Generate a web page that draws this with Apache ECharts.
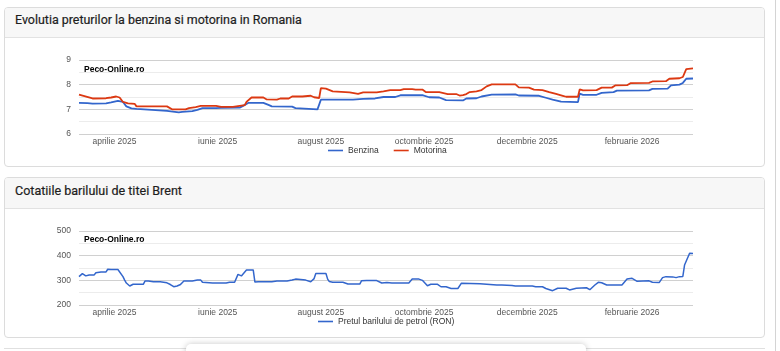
<!DOCTYPE html>
<html>
<head>
<meta charset="utf-8">
<script src="https://cdn.jsdelivr.net/npm/echarts@6/dist/echarts.min.js"></script>
<style>
  html, body { margin: 0; padding: 0; background: #fff; width: 780px; height: 351px; overflow: hidden; position: relative; }
  .card { position: absolute; left: 4px; width: 761px; border: 1px solid #dcdcdc; border-radius: 4px; background: #fff; box-sizing: border-box; overflow: hidden; }
  .hdr { position: absolute; left: 0; top: 0; right: 0; background: #f7f7f7; border-bottom: 1px solid #e2e2e2; box-sizing: border-box; }
  .ttl { position: absolute; left: 10px; font-family: Roboto, sans-serif; font-weight: 400; color: #1e1e1e; white-space: nowrap; line-height: 1; -webkit-text-stroke: 0.2px #1e1e1e; }
  #chart { position: absolute; left: 0; top: 0; width: 780px; height: 351px; }
</style>
</head>
<body>
<div class="card" style="top:7px;height:160px;">
  <div class="hdr" style="height:30px;"><div class="ttl" id="t1" style="top:6px;">Evolutia preturilor la benzina si motorina in Romania</div></div>
</div>
<div class="card" style="top:177px;height:161px;">
  <div class="hdr" style="height:31px;"><div class="ttl" id="t2" style="top:7px;">Cotatiile barilului de titei Brent</div></div>
</div>
<div style="position:absolute;left:4px;top:348px;width:761px;height:10px;border-top:1px solid #e0e0e0;"></div>
<div style="position:absolute;left:186px;top:344px;width:400px;height:20px;background:#fff;border-radius:5px;box-shadow:0 0 6px rgba(0,0,0,0.22);"></div>
<div style="position:absolute;left:775px;top:0;width:1px;height:351px;background:#d4d4d4;"></div>
<div id="chart"></div>
<script>
// ---------- data ----------
const axisStart = '2025-03-11';
const axisEnd = '2026-03-09';
const tickDates = ['2025-04-01', '2025-06-01', '2025-08-01', '2025-10-01', '2025-12-01', '2026-02-01'];
const tickLabels = ['aprilie 2025', 'iunie 2025', 'august 2025', 'octombrie 2025', 'decembrie 2025', 'februarie 2026'];

const fuelNames = ['Benzina', 'Motorina'];
const brentName = 'Pretul barilului de petrol (RON)';

const benzinaDates = ['2025-03-11','2025-03-16','2025-03-19','2025-03-27','2025-03-30','2025-04-03','2025-04-06','2025-04-08','2025-04-11','2025-04-14','2025-04-15','2025-05-02','2025-05-03','2025-05-09','2025-05-11','2025-05-17','2025-05-20','2025-05-23','2025-05-31','2025-06-03','2025-06-14','2025-06-16','2025-06-19','2025-06-28','2025-07-01','2025-07-03','2025-07-15','2025-07-17','2025-07-30','2025-07-31','2025-08-01','2025-08-20','2025-08-26','2025-09-02','2025-09-07','2025-09-14','2025-09-17','2025-09-30','2025-10-04','2025-10-10','2025-10-14','2025-10-24','2025-10-26','2025-11-01','2025-11-04','2025-11-10','2025-11-24','2025-11-26','2025-12-08','2025-12-12','2025-12-16','2025-12-21','2025-12-31','2026-01-01','2026-01-03','2026-01-11','2026-01-14','2026-01-21','2026-01-23','2026-02-11','2026-02-13','2026-02-22','2026-02-24','2026-03-01','2026-03-03','2026-03-05','2026-03-09'];
const benzinaValues = [7.26,7.25,7.23,7.24,7.28,7.34,7.30,7.12,7.04,7.02,6.94,6.94,6.88,6.88,6.90,6.93,6.98,7.05,7.05,7.06,7.07,7.14,7.26,7.26,7.18,7.12,7.11,7.05,7.00,6.98,7.39,7.39,7.42,7.44,7.50,7.50,7.57,7.58,7.49,7.48,7.37,7.36,7.44,7.45,7.52,7.60,7.61,7.56,7.55,7.47,7.39,7.31,7.29,7.64,7.59,7.59,7.67,7.70,7.76,7.77,7.83,7.84,7.97,8.00,8.07,8.24,8.25];

const motorinaDates = ['2025-03-11','2025-03-19','2025-03-27','2025-03-30','2025-04-02','2025-04-04','2025-04-06','2025-04-09','2025-04-13','2025-04-14','2025-05-02','2025-05-05','2025-05-13','2025-05-15','2025-05-19','2025-05-22','2025-05-31','2025-06-03','2025-06-10','2025-06-11','2025-06-17','2025-06-18','2025-06-21','2025-06-28','2025-06-30','2025-07-06','2025-07-08','2025-07-13','2025-07-15','2025-07-21','2025-07-22','2025-07-26','2025-07-28','2025-07-31','2025-08-01','2025-08-04','2025-08-08','2025-08-18','2025-08-23','2025-08-26','2025-09-03','2025-09-07','2025-09-11','2025-09-17','2025-09-19','2025-09-24','2025-09-26','2025-09-30','2025-10-02','2025-10-10','2025-10-15','2025-10-20','2025-10-22','2025-10-24','2025-10-26','2025-10-28','2025-11-01','2025-11-04','2025-11-07','2025-11-10','2025-11-24','2025-11-26','2025-12-02','2025-12-05','2025-12-10','2025-12-14','2025-12-18','2025-12-22','2025-12-24','2025-12-31','2026-01-01','2026-01-03','2026-01-11','2026-01-14','2026-01-20','2026-01-22','2026-01-29','2026-01-31','2026-02-11','2026-02-13','2026-02-21','2026-02-23','2026-03-01','2026-03-03','2026-03-05','2026-03-09'];
const motorinaValues = [7.60,7.44,7.45,7.48,7.52,7.48,7.30,7.24,7.22,7.12,7.12,7.00,7.00,7.05,7.09,7.14,7.14,7.10,7.10,7.16,7.17,7.30,7.48,7.48,7.40,7.39,7.44,7.44,7.52,7.52,7.56,7.55,7.49,7.46,7.86,7.84,7.73,7.69,7.63,7.69,7.69,7.73,7.78,7.78,7.82,7.82,7.80,7.80,7.70,7.70,7.62,7.62,7.56,7.58,7.62,7.70,7.73,7.78,7.93,8.01,8.01,7.89,7.88,7.80,7.78,7.70,7.63,7.55,7.51,7.51,7.81,7.77,7.78,7.88,7.88,7.97,7.98,8.06,8.07,8.13,8.14,8.24,8.26,8.31,8.63,8.66];

const brentDates = ['2025-03-11','2025-03-13','2025-03-15','2025-03-17','2025-03-20','2025-03-21','2025-03-24','2025-03-27','2025-03-28','2025-03-30','2025-04-03','2025-04-04','2025-04-06','2025-04-07','2025-04-08','2025-04-09','2025-04-10','2025-04-11','2025-04-12','2025-04-18','2025-04-19','2025-04-21','2025-04-22','2025-04-24','2025-04-28','2025-04-29','2025-05-02','2025-05-04','2025-05-06','2025-05-08','2025-05-10','2025-05-12','2025-05-14','2025-05-15','2025-05-17','2025-05-20','2025-05-22','2025-05-23','2025-05-29','2025-06-06','2025-06-08','2025-06-11','2025-06-12','2025-06-13','2025-06-15','2025-06-16','2025-06-18','2025-06-22','2025-06-23','2025-06-25','2025-07-03','2025-07-06','2025-07-12','2025-07-13','2025-07-15','2025-07-17','2025-07-23','2025-07-24','2025-07-26','2025-07-28','2025-07-29','2025-08-04','2025-08-05','2025-08-06','2025-08-08','2025-08-14','2025-08-15','2025-08-17','2025-08-24','2025-08-25','2025-08-28','2025-09-03','2025-09-06','2025-09-09','2025-09-12','2025-09-22','2025-09-24','2025-09-28','2025-09-30','2025-10-03','2025-10-05','2025-10-09','2025-10-11','2025-10-14','2025-10-17','2025-10-21','2025-10-23','2025-11-03','2025-11-04','2025-11-13','2025-11-16','2025-11-22','2025-11-24','2025-12-04','2025-12-06','2025-12-10','2025-12-12','2025-12-16','2025-12-19','2025-12-24','2025-12-26','2025-12-30','2026-01-05','2026-01-07','2026-01-08','2026-01-10','2026-01-12','2026-01-14','2026-01-17','2026-01-23','2026-01-24','2026-01-26','2026-01-29','2026-02-01','2026-02-04','2026-02-05','2026-02-11','2026-02-13','2026-02-17','2026-02-19','2026-02-21','2026-02-25','2026-02-27','2026-03-01','2026-03-03','2026-03-04','2026-03-05','2026-03-07','2026-03-09'];
const brentValues = [315,327,318,322,322,331,334,334,345,344,344,342,315,301,289,294,277,283,284,284,297,297,292,294,294,290,290,283,274,277,283,297,297,305,297,301,301,292,289,289,292,292,294,324,318,322,342,342,293,294,294,297,297,305,301,305,301,294,294,307,328,328,305,295,292,292,289,285,285,298,299,299,289,291,289,289,305,305,300,278,284,284,274,274,267,267,288,286,281,281,281,279,277,277,274,274,267,258,268,268,261,268,270,262,261,281,292,290,281,281,288,281,305,308,296,297,298,292,291,311,315,314,311,315,316,362,355,410,409];

// ---------- titles fitted to reference widths ----------
function fit(id, target) {
  const el = document.getElementById(id);
  const c = document.createElement('canvas').getContext('2d');
  c.font = '400 13px Roboto';
  const w = c.measureText(el.textContent).width;
  el.style.fontSize = (13 * target / w).toFixed(2) + 'px';
}
fit('t1', 287); fit('t2', 167);

// ---------- chart ----------
function toTs(s) { const p = s.split('-').map(Number); return new Date(p[0], p[1] - 1, p[2]).getTime(); }
const tickTs = tickDates.map(toTs);
const pair = (d, v) => d.map((x, i) => [toTs(x), v[i]]);

const FONT = 'Arial, "Liberation Sans", sans-serif';
const TXT = '#555';

function xAxisCfg(gi) {
  return {
    type: 'value', gridIndex: gi, min: toTs(axisStart), max: toTs(axisEnd),
    axisLine: { show: false }, axisTick: { show: false }, splitLine: { show: false },
    axisLabel: {
      customValues: tickTs, margin: 3, fontSize: 8.5, color: TXT, fontFamily: FONT, hideOverlap: false,
      formatter: v => { const i = tickTs.indexOf(v); return i >= 0 ? tickLabels[i] : ''; }
    }
  };
}
function yAxisCfg(gi, min, max, interval) {
  return {
    type: 'value', gridIndex: gi, min, max, interval,
    axisLine: { show: false }, axisTick: { show: false },
    axisLabel: { margin: 8, fontSize: 8.5, color: TXT, fontFamily: FONT },
    splitLine: { lineStyle: { color: '#d0d0d0', width: 1 } },
    minorTick: { show: false, splitNumber: 2 },
    minorSplitLine: { show: true, lineStyle: { color: '#ececec', width: 1 } }
  };
}
const legendText = { fontSize: 8.5, color: '#333', fontFamily: FONT };

const chart = echarts.init(document.getElementById('chart'), null, { renderer: 'canvas' });
chart.setOption({
  animation: false,
  backgroundColor: 'transparent',
  grid: [
    { left: 79, top: 60, width: 614, height: 74, containLabel: false },
    { left: 79, top: 231, width: 614, height: 74, containLabel: false }
  ],
  xAxis: [xAxisCfg(0), xAxisCfg(1)],
  yAxis: [yAxisCfg(0, 6, 9, 1), yAxisCfg(1, 200, 500, 100)],
  legend: [
    { data: fuelNames, left: 328, top: 146, icon: 'rect', itemWidth: 15, itemHeight: 1.6, itemGap: 15, textStyle: legendText, padding: 0 },
    { data: [brentName], left: 318, top: 317, icon: 'rect', itemWidth: 15, itemHeight: 1.6, textStyle: legendText, padding: 0 }
  ],
  graphic: [
    { type: 'text', left: 84, top: 65, style: { text: 'Peco-Online.ro', fontSize: 8.5, fontWeight: 'bold', fill: '#000', fontFamily: FONT } },
    { type: 'text', left: 84, top: 235, style: { text: 'Peco-Online.ro', fontSize: 8.5, fontWeight: 'bold', fill: '#000', fontFamily: FONT } }
  ],
  series: [
    { name: fuelNames[0], type: 'line', xAxisIndex: 0, yAxisIndex: 0, data: pair(benzinaDates, benzinaValues), showSymbol: false, lineStyle: { width: 1.8, color: '#3366cc' }, itemStyle: { color: '#3366cc' } },
    { name: fuelNames[1], type: 'line', xAxisIndex: 0, yAxisIndex: 0, data: pair(motorinaDates, motorinaValues), showSymbol: false, lineStyle: { width: 1.8, color: '#dc3912' }, itemStyle: { color: '#dc3912' } },
    { name: brentName, type: 'line', xAxisIndex: 1, yAxisIndex: 1, data: pair(brentDates, brentValues), showSymbol: false, lineStyle: { width: 1.5, color: '#3366cc' }, itemStyle: { color: '#3366cc' } }
  ]
});
</script>
</body>
</html>
